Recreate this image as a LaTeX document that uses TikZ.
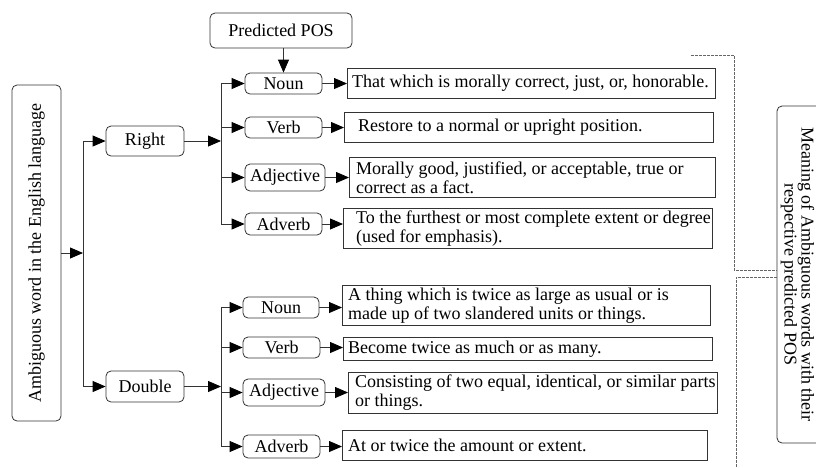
\documentclass[tikz,border=0pt]{standalone}
\usepackage{fontspec}
\setmainfont{Liberation Serif}
\usetikzlibrary{arrows.meta}
\begin{document}
\begin{tikzpicture}[x=1pt,y=-1pt,
  every node/.style={font=\fontsize{18}{19}\selectfont, text=black},
  rbox/.style={draw=black!80, line width=0.8pt, rounded corners=5pt, inner sep=0pt},
  descbox/.style={draw=black!80, line width=0.8pt, inner sep=0pt, anchor=north west},
  desctext/.style={anchor=west, align=left, inner sep=0pt},
  conn/.style={draw=black!80, line width=0.8pt},
  arr/.style={conn, -{Triangle[length=13pt,width=11pt,fill=black,color=black]}},
  dsh/.style={draw=black!60, line width=0.7pt, dash pattern=on 2.5pt off 1.5pt}
]
\useasboundingbox (0,0) rectangle (816,467);

% left box
\node[rbox, minimum width=49pt, minimum height=336pt] (amb) at (36.5,253) {};
\node[rotate=90, inner sep=0pt] (ambt) at (amb.center) {Ambiguous word in the English language};

% right box
\node[rbox, minimum width=60pt, minimum height=337pt] (rb) at (807,274.5) {};
\node[rotate=-90, align=center, inner sep=0pt, font=\fontsize{18}{17}\selectfont] (rbt) at (797.5,274.5) {Meaning of Ambiguous words with their\\respective predicted POS};

% top
\node[rbox, minimum width=142pt, minimum height=35pt] (pos) at (281,30.5) {Predicted POS};

% words
\node[rbox, minimum width=78pt, minimum height=30pt] (right) at (145,141) {Right};
\node[rbox, minimum width=78pt, minimum height=31pt] (double) at (145,386.5) {Double};

% POS nodes (Right)
\node[rbox, minimum width=77pt, minimum height=21pt] (nr) at (283.5,83.5) {Noun};
\node[rbox, minimum width=77pt, minimum height=21pt] (vr) at (283.5,127.5) {Verb};
\node[rbox, minimum width=80pt, minimum height=27pt] (ajr) at (285,177.5) {Adjective};
\node[rbox, minimum width=77pt, minimum height=22pt] (avr) at (283.5,224) {Adverb};
% POS nodes (Double)
\node[rbox, minimum width=76pt, minimum height=21pt] (nd) at (281,307.5) {Noun};
\node[rbox, minimum width=77pt, minimum height=21pt] (vd) at (281.5,347.5) {Verb};
\node[rbox, minimum width=82pt, minimum height=27pt] (ajd) at (284,392.5) {Adjective};
\node[rbox, minimum width=77pt, minimum height=23pt] (avd) at (281.5,446.5) {Adverb};

% description boxes
\node[descbox, minimum width=368pt, minimum height=30pt] (r1) at (347,68) {};
\node[desctext] (r1t) at ([xshift=5pt]r1.west) {That which is morally correct, just, or, honorable.};
\node[descbox, minimum width=369pt, minimum height=30pt] (r2) at (344,112) {};
\node[desctext] (r2t) at ([xshift=14pt]r2.west) {Restore to a normal or upright position.};
\node[descbox, minimum width=366pt, minimum height=40pt] (r3) at (349,157) {};
\node[desctext] (r3t) at ([xshift=7pt]r3.west) {Morally good, justified, or acceptable, true or\\correct as a fact.};
\node[descbox, minimum width=369pt, minimum height=40pt] (r4) at (343,208) {};
\node[desctext] (r4t) at ([xshift=13pt]r4.west) {To the furthest or most complete extent or degree\\(used for emphasis).};

\node[descbox, minimum width=368pt, minimum height=40pt] (d1) at (342,285) {};
\node[desctext] (d1t) at ([xshift=6pt]d1.west) {A thing which is twice as large as usual or is\\made up of two slandered units or things.};
\node[descbox, minimum width=369pt, minimum height=23pt] (d2) at (343,337) {};
\node[desctext] (d2t) at ([xshift=5pt]d2.west) {Become twice as much or as many.};
\node[descbox, minimum width=369pt, minimum height=41pt] (d3) at (348,372) {};
\node[desctext] (d3t) at ([xshift=7pt]d3.west) {Consisting of two equal, identical, or similar parts\\or things.};
\node[descbox, minimum width=365pt, minimum height=30pt] (d4) at (342,430) {};
\node[desctext] (d4t) at ([xshift=6pt]d4.west) {At or twice the amount or extent.};

% junction coordinates
\coordinate (j0) at (83,253);
\coordinate (jr) at (221,141);
\coordinate (jd) at (221,386.5);

% connectors: left
\draw[arr] (amb.east) -- (j0);
\draw[conn] (j0 |- right.west) -- (j0 |- double.west);
\draw[arr] (j0 |- right.west) -- (right.west);
\draw[arr] (j0 |- double.west) -- (double.west);

% Right branch
\draw[arr] (right.east) -- (jr);
\draw[conn] (jr |- nr.west) -- (jr |- avr.west);
\draw[arr] (jr |- nr.west) -- (nr.west);
\draw[arr] (jr |- vr.west) -- (vr.west);
\draw[arr] (jr |- ajr.west) -- (ajr.west);
\draw[arr] (jr |- avr.west) -- (avr.west);

% Double branch
\draw[arr] (double.east) -- (jd);
\draw[conn] (jd |- nd.west) -- (jd |- avd.west);
\draw[arr] (jd |- nd.west) -- (nd.west);
\draw[arr] (jd |- vd.west) -- (vd.west);
\draw[arr] (jd |- ajd.west) -- (ajd.west);
\draw[arr] (jd |- avd.west) -- (avd.west);

% POS to descriptions
\draw[arr] (nr.east) -- (nr.east -| r1.west);
\draw[arr] (vr.east) -- (vr.east -| r2.west);
\draw[arr] (ajr.east) -- (ajr.east -| r3.west);
\draw[arr] (avr.east) -- (avr.east -| r4.west);
\draw[arr] (nd.east) -- (nd.east -| d1.west);
\draw[arr] (vd.east) -- (vd.east -| d2.west);
\draw[arr] (ajd.east) -- (ajd.east -| d3.west);
\draw[arr] (avd.east) -- (avd.east -| d4.west);

% predicted POS arrow
\draw[arr] (pos.south -| nr.north) -- (nr.north);

% dashed bracket
\coordinate (da) at (691,55);
\coordinate (db) at (734,55);
\coordinate (dc) at (734,270);
\coordinate (dd) at (736,277);
\coordinate (de) at (736,467);
\draw[dsh] (da) -- (db) -- (dc) -- (dc -| rb.west);
\draw[dsh] (dd -| rb.west) -- (dd) -- (de);
\end{tikzpicture}
\end{document}
